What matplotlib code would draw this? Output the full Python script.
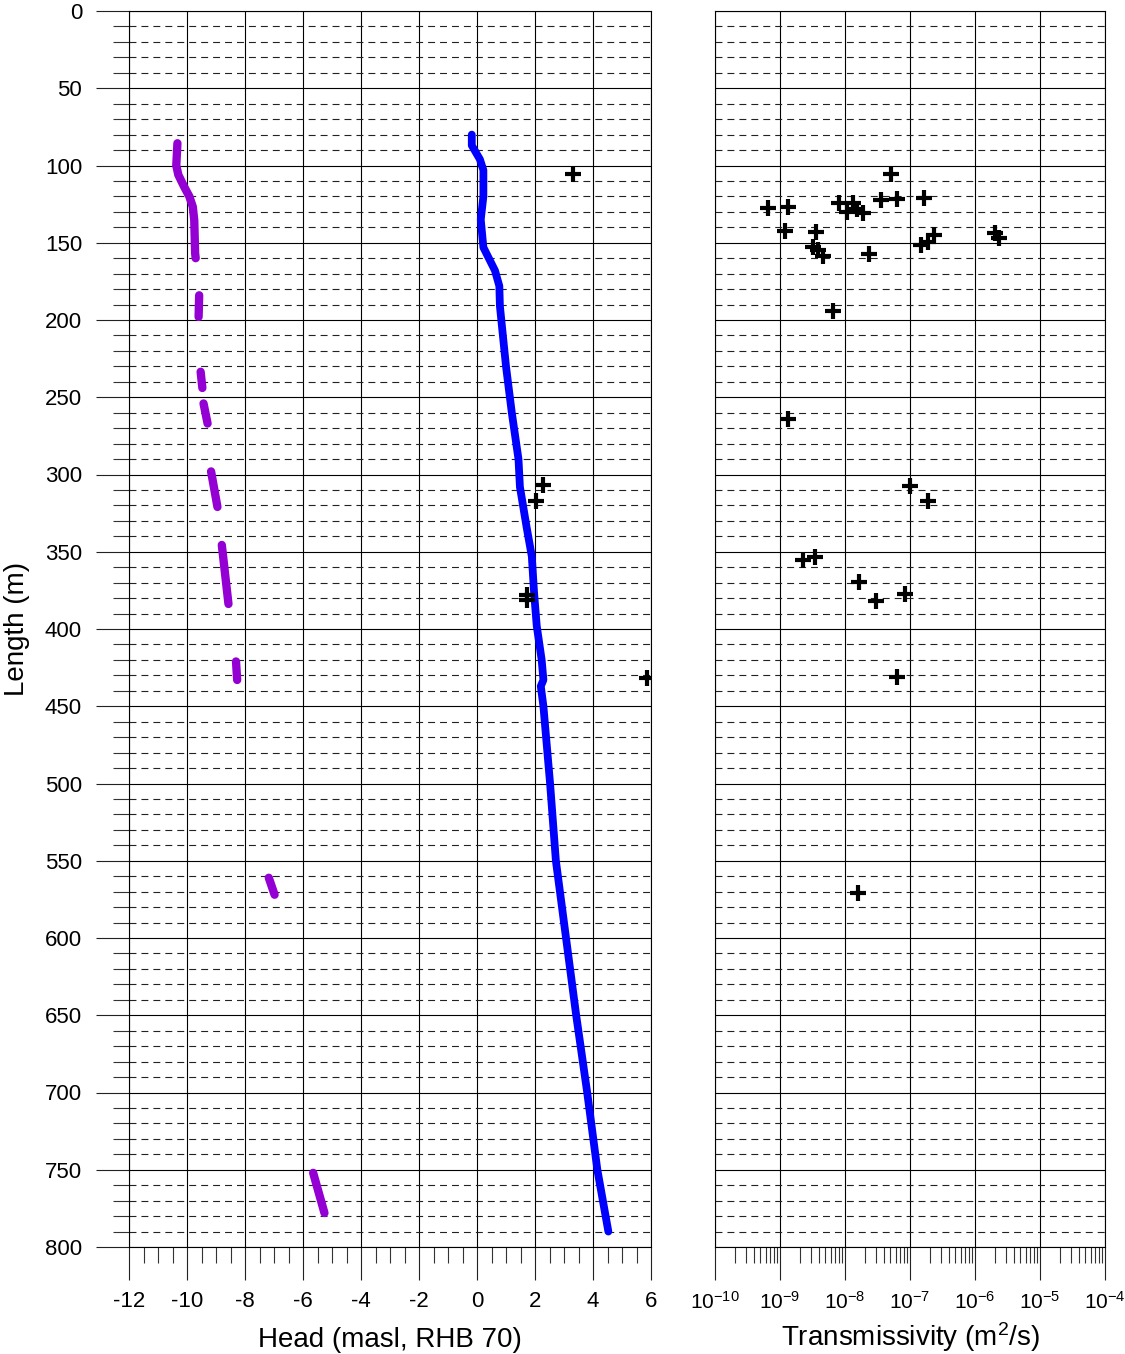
import numpy as np
import matplotlib
matplotlib.use("Agg")
import matplotlib.pyplot as plt
from matplotlib.ticker import MultipleLocator, LogLocator, NullFormatter

plt.rcParams['font.family'] = ['Liberation Sans', 'DejaVu Sans']
plt.rcParams['mathtext.fontset'] = 'custom'
plt.rcParams['mathtext.rm'] = 'Liberation Sans'
plt.rcParams['mathtext.it'] = 'Liberation Sans'
plt.rcParams['mathtext.default'] = 'regular'
plt.rcParams['axes.unicode_minus'] = False
plt.rcParams['lines.scale_dashes'] = False

# --- head profile (blue), masl vs length along borehole
blue_depth = [80, 87, 96, 103, 120, 135, 153, 168, 178, 191, 230, 260, 290, 308,
              334, 353, 377, 398, 420, 433, 437, 450, 500, 550, 600, 650,
              700, 750, 790]
blue_head = [-0.18, -0.18, 0.10, 0.22, 0.22, 0.13, 0.22, 0.62, 0.77, 0.79, 1.00,
             1.20, 1.43, 1.48, 1.71, 1.89, 1.97, 2.06, 2.23, 2.29, 2.20, 2.29,
             2.52, 2.72, 3.07, 3.42, 3.80, 4.15, 4.53]

# --- purple head segments
purple_depth = [
    [85.6, 100, 106, 113.7, 120, 126.7, 135.4, 156.8, 160],
    [184, 198],
    [233.5, 244],
    [254, 267],
    [298, 321],
    [345.6, 383.8],
    [421, 433],
    [561, 572],
    [752, 778],
]
purple_head = [
    [-10.33, -10.37, -10.30, -10.10, -9.92, -9.80, -9.75, -9.72, -9.70],
    [-9.58, -9.60],
    [-9.53, -9.47],
    [-9.43, -9.29],
    [-9.17, -8.95],
    [-8.80, -8.57],
    [-8.31, -8.27],
    [-7.18, -6.98],
    [-5.65, -5.26],
]

# --- plus markers in head panel
plus_head = [3.32, 2.29, 2.02, 1.71, 1.71, 5.85]
plus_depth = [105.7, 306.8, 317, 378, 381, 431.5]

# --- transmissivity (log10 m2/s) vs length
logT = [-7.30, -9.18, -8.87, -8.92, -8.45, -7.45, -7.20, -6.78,
        -8.09, -7.87, -7.97, -7.82, -7.73, -8.49, -8.41, -8.34,
        -7.63, -6.83, -6.73, -6.63, -5.69, -5.63, -8.18,
        -8.88, -7.00, -6.73, -8.65, -8.46, -7.79, -7.53, -7.08,
        -7.20, -7.80]
T_depth = [105.5, 127.7, 126.7, 142.4, 142.8, 122.3, 121.7, 120.8,
           124.5, 124.5, 129.9, 128.3, 130.5, 152.6, 154.7, 158.6,
           157.3, 151.5, 149.3, 145.0, 143.9, 147.1, 194.0,
           264.3, 307.4, 317, 355.3, 353.2, 369.4, 381.7, 377.5,
           431, 571]

fig = plt.figure(figsize=(11.25, 13.54), dpi=100)
ax0 = fig.add_axes([129/1125, 107/1354, 522/1125, 1236/1354])
ax1 = fig.add_axes([715/1125, 107/1354, 390/1125, 1236/1354])

dash = (0, (5.0, 3.6))
for ax in (ax0, ax1):
    ax.set_ylim(800, 0)
    ax.yaxis.set_major_locator(MultipleLocator(50))
    ax.yaxis.set_minor_locator(MultipleLocator(10))
    ax.grid(which='major', color='black', lw=0.8, ls='-')
    ax.grid(which='minor', axis='y', color='#222222', lw=0.8, linestyle=dash)
    ax.tick_params(which='major', direction='out', length=23.8, width=0.8,
                   labelsize=16, color='#222222')
    ax.tick_params(which='minor', direction='out', length=11.5, width=0.8,
                   color='#333333')
    ax.tick_params(axis='x', which='major', pad=8)
    for s in ax.spines.values():
        s.set_linewidth(0.8)
    ax.set_axisbelow(True)

# head panel
ax0.set_xlim(-12, 6)
ax0.xaxis.set_major_locator(MultipleLocator(2))
ax0.xaxis.set_minor_locator(MultipleLocator(0.5))
ax0.tick_params(axis='y', which='major', pad=10)
ax0.plot(blue_head, blue_depth, color='#0000ff', lw=5.6,
         solid_capstyle='round', solid_joinstyle='round', zorder=3)
for h, d in zip(purple_head, purple_depth):
    ax0.plot(h, d, color='#9400d3', lw=6.0,
             solid_capstyle='round', solid_joinstyle='round', zorder=3)
ax0.plot(plus_head, plus_depth, ls='none', marker='+', color='black',
         ms=11, mew=3.0, zorder=4)
ax0.set_xlabel('Head (masl, RHB 70)', fontsize=20)
ax0.xaxis.set_label_coords(0.5, -0.0645)
ax0.set_ylabel('Length (m)', fontsize=20)
ax0.yaxis.set_label_coords(-0.19, 0.5)

# transmissivity panel
ax1.set_xscale('log')
ax1.set_xlim(1e-10, 1e-4)
ax1.xaxis.set_major_locator(LogLocator(base=10, numticks=10))
ax1.xaxis.set_minor_locator(LogLocator(base=10, subs=np.arange(2, 10), numticks=20))
ax1.xaxis.set_minor_formatter(NullFormatter())
ax1.tick_params(axis='x', which='major', labelsize=15)
ax1.tick_params(axis='y', which='both', length=0, labelleft=False)
ax1.plot(10.0 ** np.array(logT), T_depth, ls='none', marker='+', color='black',
         ms=11, mew=3.0, zorder=4)
ax1.set_xlabel('Transmissivity (m$^2$/s)', fontsize=20)
ax1.xaxis.set_label_coords(0.5, -0.0595)

fig.savefig('out.png', dpi=100)
